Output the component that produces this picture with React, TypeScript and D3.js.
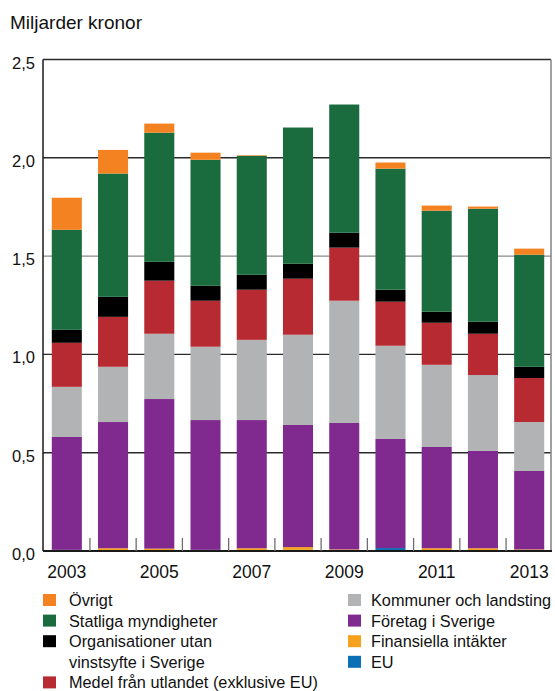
import * as d3 from 'd3';

// Stacking order, bottom to top
const seriesKeys = [
  'EU',
  'Finansiella intäkter',
  'Företag i Sverige',
  'Kommuner och landsting',
  'Medel från utlandet (exklusive EU)',
  'Organisationer utan vinstsyfte i Sverige',
  'Statliga myndigheter',
  'Övrigt',
];

const seriesColors = [
  '#0a6fb5', '#f6a21c', '#80298f', '#b1b3b4',
  '#b82a31', '#000000', '#1a6b3d', '#f48220',
];

const years = ['2003', '2004', '2005', '2006', '2007', '2008', '2009', '2010', '2011', '2012', '2013'];
const yearLabels = ['2003', '2005', '2007', '2009', '2011', '2013'];

// billion SEK per year
const eu = [0.006, 0.004, 0.004, 0.006, 0.004, 0.006, 0.004, 0.015, 0.004, 0.004, 0.004];
const finansiella = [0, 0.01, 0.008, 0, 0.01, 0.014, 0.004, 0, 0.01, 0.01, 0.004];
const foretag = [0.574, 0.642, 0.761, 0.66, 0.652, 0.621, 0.643, 0.555, 0.515, 0.495, 0.399];
const kommuner = [0.255, 0.281, 0.332, 0.373, 0.408, 0.459, 0.622, 0.474, 0.418, 0.386, 0.249];
const utlandet = [0.224, 0.254, 0.27, 0.234, 0.255, 0.285, 0.27, 0.224, 0.214, 0.21, 0.224];
const organisationer = [0.066, 0.102, 0.096, 0.076, 0.076, 0.076, 0.076, 0.061, 0.056, 0.061, 0.057];
const statliga = [0.509, 0.627, 0.657, 0.641, 0.605, 0.693, 0.652, 0.616, 0.514, 0.575, 0.57];
const ovrigt = [0.163, 0.12, 0.046, 0.036, 0.003, 0, 0, 0.031, 0.026, 0.011, 0.031];

const yTicks = [0, 0.5, 1, 1.5, 2, 2.5];

const legendLeft = [
  { key: 'Övrigt', lines: ['Övrigt'] },
  { key: 'Statliga myndigheter', lines: ['Statliga myndigheter'] },
  { key: 'Organisationer utan vinstsyfte i Sverige', lines: ['Organisationer utan', 'vinstsyfte i Sverige'] },
  { key: 'Medel från utlandet (exklusive EU)', lines: ['Medel från utlandet (exklusive EU)'] },
];
const legendRight = [
  { key: 'Kommuner och landsting', lines: ['Kommuner och landsting'] },
  { key: 'Företag i Sverige', lines: ['Företag i Sverige'] },
  { key: 'Finansiella intäkter', lines: ['Finansiella intäkter'] },
  { key: 'EU', lines: ['EU'] },
];

const font = '"Liberation Sans", Arial, Helvetica, sans-serif';

export default function App() {
  const width = 555;
  const height = 691;
  const plot = { left: 43, right: 551, top: 59.5, bottom: 551 };

  const rows = years.map((year, i) => ({
    year,
    'EU': eu[i],
    'Finansiella intäkter': finansiella[i],
    'Företag i Sverige': foretag[i],
    'Kommuner och landsting': kommuner[i],
    'Medel från utlandet (exklusive EU)': utlandet[i],
    'Organisationer utan vinstsyfte i Sverige': organisationer[i],
    'Statliga myndigheter': statliga[i],
    'Övrigt': ovrigt[i],
  }));

  const stacked = d3.stack<any>().keys(seriesKeys)(rows);

  const x = d3.scaleBand<string>()
    .domain(years)
    .range([plot.left, plot.right + 2])
    .paddingInner(0.35)
    .paddingOuter(0.19);

  const y = d3.scaleLinear().domain([0, 2.5]).range([plot.bottom, plot.top]);

  const color = d3.scaleOrdinal<string, string>().domain(seriesKeys).range(seriesColors);

  const gap = x.step() - x.bandwidth();
  const tickXs = years.slice(0, -1).map(yr => (x(yr) as number) + x.bandwidth() + gap / 2);

  const legendRowH = 20.6;
  const legendTop = 606;
  let leftRow = 0;

  return (
    <svg width={width} height={height} style={{ position: 'absolute', left: 0, top: 0, background: '#fff' }}
      fontFamily={font}>
      <text x={10} y={29} fontSize={19} fill="#111">Miljarder kronor</text>

      {/* grid */}
      {yTicks.filter(t => t > 0).map(t => (
        <line key={t} x1={plot.left} x2={plot.right} y1={y(t)} y2={y(t)}
          stroke={t === 1.5 ? '#8a8a8a' : '#2a2a2a'} strokeWidth={1.4} />
      ))}
      <line x1={plot.right} x2={plot.right} y1={plot.top} y2={plot.bottom} stroke="#8a8a8a" strokeWidth={1.6} />

      {/* bars */}
      {stacked.map(layer => (
        <g key={layer.key} fill={color(layer.key)}>
          {layer.map((d, i) => {
            const h = y(d[0]) - y(d[1]);
            if (h <= 0) return null;
            return <rect key={i} x={x(years[i])} y={y(d[1])} width={x.bandwidth()} height={h} />;
          })}
        </g>
      ))}

      {/* axes */}
      <line x1={plot.left} x2={plot.left} y1={plot.top} y2={plot.bottom} stroke="#1a1a1a" strokeWidth={1.5} />
      <line x1={plot.left} x2={plot.right + 1} y1={plot.bottom} y2={plot.bottom} stroke="#1a1a1a" strokeWidth={2} />
      {tickXs.map((tx, i) => (
        <line key={i} x1={tx} x2={tx} y1={plot.bottom - 13} y2={plot.bottom} stroke="#6e6e6e" strokeWidth={1.3} />
      ))}

      {yTicks.map(t => (
        <text key={t} x={35} y={y(t) + 9} fontSize={16.5} textAnchor="end" fill="#111">
          {d3.format('.1f')(t).replace('.', ',')}
        </text>
      ))}
      {yearLabels.map(yr => (
        <text key={yr} x={(x(yr) as number) + x.bandwidth() / 2} y={578} fontSize={17.5}
          textAnchor="middle" fill="#111">{yr}</text>
      ))}

      {/* legend */}
      {legendLeft.map(item => {
        const row = leftRow;
        leftRow += item.lines.length;
        const base = legendTop + row * legendRowH;
        return (
          <g key={item.key}>
            <rect x={43} y={base - 12} width={13} height={12} fill={color(item.key)} />
            {item.lines.map((ln, j) => (
              <text key={j} x={69} y={base + j * legendRowH} fontSize={16.3} fill="#111">{ln}</text>
            ))}
          </g>
        );
      })}
      {legendRight.map((item, i) => {
        const base = legendTop + i * legendRowH;
        return (
          <g key={item.key}>
            <rect x={348} y={base - 12} width={13} height={12} fill={color(item.key)} />
            <text x={371} y={base} fontSize={16.3} fill="#111">{item.lines[0]}</text>
          </g>
        );
      })}
    </svg>
  );
}
